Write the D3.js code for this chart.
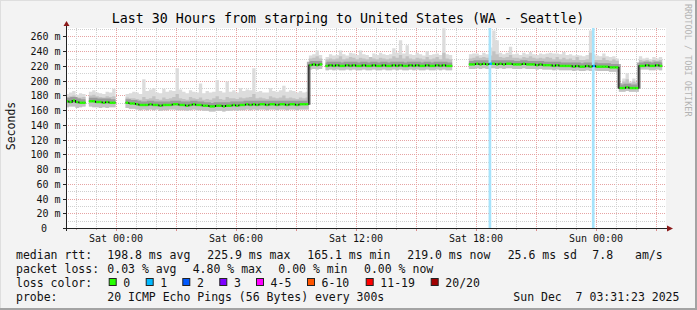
<!DOCTYPE html>
<html><head><meta charset="utf-8">
<script src="https://cdn.jsdelivr.net/npm/d3@7"></script>
<style>
html,body{margin:0;padding:0;background:#f3f3f3;}
svg{display:block;}
text{font-family:"DejaVu Sans Mono",monospace;white-space:pre;}
</style></head><body>
<svg id="c" width="697" height="310"></svg>
<script>
// ---------- data (10-minute steps starting Fri 2025-12-05 21:30 UTC) ----------
const dataStart = "2025-12-05T21:30:00Z";
const stepMinutes = 10;
const graphStart = "2025-12-05T21:31:23Z";
const graphEnd = "2025-12-07T03:31:23Z";
const N = null;
const median = [
172,171,173,171,170,170,N,172,172,171,
171,170,171,170,170,N,N,N,170,169,
169,168,167,167,167,168,167,167,166,167,
167,167,168,168,167,167,166,167,168,167,
167,166,166,165,165,166,166,165,166,166,
167,166,167,167,168,167,168,167,168,168,
167,168,168,167,168,168,167,168,168,167,
168,168,168,221,222,221,222,N,220,221,
220,221,220,220,221,220,221,220,220,221,
220,220,221,220,220,221,220,220,221,220,
221,220,220,221,220,221,220,220,221,220,
220,221,220,221,220,220,N,N,N,N,
N,222,222,223,222,223,222,223,223,222,
223,222,223,223,222,222,222,223,222,222,
222,221,222,221,221,221,220,221,220,220,
220,220,219,220,219,219,220,219,220,219,
219,219,219,218,218,218,190,190,191,190,
190,190,220,220,221,220,220,221,220,N];
const smokeMin = [
164,165,165,163,164,165,N,165,164,164,
163,164,163,164,164,N,N,N,163,162,
162,161,160,161,160,161,160,161,159,160,
160,161,161,160,160,160,159,160,161,160,
160,159,159,158,158,159,159,158,159,159,
160,159,160,160,161,160,161,160,161,161,
160,161,161,160,161,161,160,161,161,160,
161,161,161,215,216,215,216,N,214,215,
214,215,214,214,215,214,215,214,214,215,
214,214,215,214,214,215,214,214,215,214,
215,214,214,215,214,215,214,214,215,214,
214,215,214,215,214,214,N,N,N,N,
N,216,216,217,216,217,216,217,217,216,
217,216,217,217,216,216,216,217,216,216,
216,215,216,215,215,215,214,215,214,214,
214,214,213,214,213,213,214,213,214,213,
213,213,213,212,212,212,185,185,186,185,
185,185,215,215,215,214,214,215,214,N];
const smokeHigh = [
178,179,180,177,177,178,N,180,181,179,
178,177,179,178,179,N,N,N,177,176,
176,175,174,178,175,176,179,175,174,177,
175,176,178,182,176,175,174,178,176,175,
177,174,175,174,176,179,175,174,178,176,
176,175,177,176,177,178,182,176,177,176,
175,179,177,176,177,180,176,177,176,175,
177,176,177,230,231,233,230,N,229,230,
229,230,233,229,230,232,231,229,231,230,
229,232,230,229,231,230,229,230,233,231,
235,230,233,230,229,231,230,229,232,229,
230,232,229,238,230,229,N,N,N,N,
N,230,231,233,231,232,231,234,240,236,
232,231,232,235,231,231,230,232,231,233,
231,230,231,230,232,231,229,232,229,231,
229,230,228,232,228,228,229,238,228,228,
228,231,228,227,229,227,197,199,202,197,
199,197,228,227,228,226,228,227,228,N];
const smokeMax = [
182,184,186,181,183,182,N,185,187,184,
183,182,185,184,189,N,N,N,182,183,
185,184,182,202,186,188,190,184,183,189,
185,187,186,217,188,185,183,187,185,184,
196,183,186,184,185,201,186,184,199,185,
187,184,190,186,188,187,217,185,186,184,
184,190,186,185,187,193,185,187,186,184,
186,184,185,234,236,241,235,N,232,236,
234,235,241,236,234,238,237,235,241,236,
235,232,237,235,238,236,235,236,244,238,
255,237,248,236,235,238,236,234,240,235,
236,237,235,271,236,235,N,N,N,N,
N,236,237,237,235,238,236,245,268,255,
238,236,238,246,236,237,235,238,236,239,
236,235,237,236,237,238,237,237,236,239,
235,236,234,235,234,233,235,268,236,234,
233,237,233,232,233,230,196,203,210,199,
203,198,233,230,231,229,232,230,232,N];
const lossIndex = [127, 158];
const lossCount = [1, 1];

const yTicks = [0,20,40,60,80,100,120,140,160,180,200,220,240,260];
const lossLabels = ["0","1","2","3","4-5","6-10","11-19","20/20"];
const lossColors = ["#26ff00","#00b8ff","#0059ff","#7e00ff","#ff00ff","#ff5500","#ff0000","#a10000"];
const statsRtt = ["198.8 ms avg","225.9 ms max","165.1 ms min","219.0 ms now","25.6 ms sd","7.8","am/s"];
const statsLoss = ["0.03 % avg","4.80 % max","0.00 % min","0.00 % now"];
const title = "Last 30 Hours from starping to United States (WA - Seattle)";
const probeText = "20 ICMP Echo Pings (56 Bytes) every 300s";
const stampText = "Sun Dec  7 03:31:23 2025";

// ---------- drawing ----------
const svg = d3.select("#c");
const W = 697, H = 310;
const X0 = 66, X1 = 666, Y0 = 228, Y1 = 28;
const x = d3.scaleUtc().domain([new Date(graphStart), new Date(graphEnd)]).range([X0, X1]);
const y = d3.scaleLinear().domain([0, 271.5]).range([Y0, Y1]);
const t0 = new Date(dataStart).getTime();
const tAt = i => new Date(t0 + i * stepMinutes * 60000);

svg.append("rect").attr("width", W).attr("height", H).attr("fill", "#f3f3f3");
svg.append("rect").attr("x", W-2).attr("y", 0).attr("width", 2).attr("height", H).attr("fill", "#a3a3a3");
svg.append("rect").attr("x", 0).attr("y", H-2).attr("width", W).attr("height", 2).attr("fill", "#a3a3a3");
svg.append("rect").attr("x", 0).attr("y", 0).attr("width", 1).attr("height", H-2).attr("fill", "#dedede");
svg.append("rect").attr("x", 0).attr("y", 0).attr("width", W-2).attr("height", 1).attr("fill", "#dedede");

svg.append("rect").attr("x", X0).attr("y", Y1).attr("width", X1 - X0).attr("height", Y0 - Y1).attr("fill", "#ffffff");

svg.append("defs").append("clipPath").attr("id", "clip")
  .append("rect").attr("x", X0).attr("y", Y1).attr("width", X1 - X0).attr("height", Y0 - Y1);

// grid
const grid = svg.append("g").attr("shape-rendering", "crispEdges");
d3.range(10, 271, 10).forEach(v => {
  const maj = v % 20 === 0;
  grid.append("line").attr("x1", X0).attr("x2", X1).attr("y1", Math.round(y(v)) + 0.5).attr("y2", Math.round(y(v)) + 0.5)
    .attr("stroke", maj ? "#e6a3a3" : "#cfcfcf").attr("stroke-dasharray", "1,1");
});
const hours = d3.utcHour.range(new Date(graphStart), new Date(graphEnd));
hours.forEach(h => {
  const maj = h.getUTCHours() % 3 === 0;
  const px = Math.round(x(h)) + 0.5;
  grid.append("line").attr("x1", px).attr("x2", px).attr("y1", Y1).attr("y2", Y0)
    .attr("stroke", maj ? "#e6a3a3" : "#cfcfcf").attr("stroke-dasharray", "1,1");
  grid.append("line").attr("x1", px).attr("x2", px).attr("y1", Y0).attr("y2", Y0 + (maj ? 3 : 2))
    .attr("stroke", maj ? "#d98a8a" : "#c4a8a8");
});

// build stepped points with sentinel after each block
function stepPoints(arrA, arrB) {
  const pts = [];
  for (let i = 0; i < arrA.length; i++) {
    const a = arrA[i];
    pts.push({t: tAt(i), a: a, b: arrB ? arrB[i] : null});
    const next = i + 1 < arrA.length ? arrA[i + 1] : null;
    if (a != null && next == null) {
      pts.push({t: tAt(i + 1), a: a, b: arrB ? arrB[i] : null});
      pts.push({t: tAt(i + 1), a: null, b: null});
    }
  }
  return pts;
}
const plot = svg.append("g").attr("clip-path", "url(#clip)");

const area = d3.area().curve(d3.curveStepAfter)
  .defined(d => d.a != null).x(d => x(d.t)).y0(d => y(d.a)).y1(d => y(d.b));
plot.append("path").datum(stepPoints(smokeMin, smokeMax)).attr("d", area).attr("fill", "#dcdcdc");
plot.append("path").datum(stepPoints(smokeMin, smokeHigh)).attr("d", area).attr("fill", "#c2c2c2");

const line = d3.line().curve(d3.curveStepAfter).defined(d => d.a != null).x(d => x(d.t)).y(d => y(d.a));
// dense core of the smoke around the median
plot.append("path").datum(stepPoints(median)).attr("d", line).attr("fill", "none")
  .attr("stroke", "#8a8a8a").attr("stroke-width", 4).attr("opacity", 0.7).attr("transform", "translate(0,-1.5)");

// loss bars
lossIndex.forEach((li, k) => {
  const xa = x(tAt(li)), xb = x(tAt(li + 1));
  plot.append("rect").attr("x", xa - 0.3).attr("width", (xb - xa) * 0.8).attr("y", Y1).attr("height", Y0 - Y1)
    .attr("fill", "#a6e3fb");
});

// median line (black) then loss-colored segments
plot.append("path").datum(stepPoints(median)).attr("d", line).attr("fill", "none")
  .attr("stroke", "#111").attr("stroke-width", 1.2);
median.forEach((v, i) => {
  if (v == null) return;
  const li = lossIndex.indexOf(i);
  const col = li >= 0 ? lossColors[lossCount[li]] : lossColors[0];
  const xa = x(tAt(i)), xb = x(tAt(i + 1));
  const prev = median[i - 1], next = median[i + 1];
  const a = (prev != null && prev !== v) ? 0.6 : 0;
  const b = (next != null && next !== v) ? 0.6 : 0;
  plot.append("line").attr("x1", xa + a).attr("x2", xb - b).attr("y1", y(v)).attr("y2", y(v))
    .attr("stroke", col).attr("stroke-width", 2.4);
});

// axes
const ax = svg.append("g");
ax.append("line").attr("x1", X0 - 0.5).attr("x2", X1 + 2).attr("y1", Y0 + 0.5).attr("y2", Y0 + 0.5).attr("stroke", "#222");
ax.append("line").attr("x1", X0 + 0.5).attr("x2", X0 + 0.5).attr("y1", Y0 + 3).attr("y2", Y1 - 3).attr("stroke", "#222");
ax.append("path").attr("d", `M${X0 - 2.5},${Y1 - 2} L${X0 + 3.5},${Y1 - 2} L${X0 + 0.5},${Y1 - 7} Z`).attr("fill", "#8b1a1a");
ax.append("path").attr("d", `M${X1 + 1},${Y0 - 2.5} L${X1 + 1},${Y0 + 3.5} L${X1 + 7},${Y0 + 0.5} Z`).attr("fill", "#8b1a1a");

// y ticks & labels
yTicks.forEach(v => {
  const py = Math.round(y(v)) + 0.5;
  ax.append("line").attr("x1", X0 - 3).attr("x2", X0).attr("y1", py).attr("y2", py).attr("stroke", "#222");
  ax.append("text").attr("x", v === 0 ? 47 : 60.5).attr("y", py + 3.6).attr("text-anchor", "end")
    .attr("font-size", "10px").attr("fill", "#111").text(v === 0 ? "0" : v + " m");
});
// x labels
const fmt = d3.utcFormat("%a %H:%M");
d3.utcHour.every(6).range(new Date(graphStart), new Date(graphEnd)).forEach(h => {
  ax.append("text").attr("x", x(h) + 0.5).attr("y", 242).attr("text-anchor", "middle")
    .attr("font-size", "10px").attr("fill", "#111").text(fmt(h));
});

// titles
svg.append("text").attr("x", 348).attr("y", 23).attr("text-anchor", "middle").attr("font-size", "13.3px").attr("fill", "#000").text(title);
svg.append("text").attr("transform", "translate(15,126) rotate(-90)").attr("text-anchor", "middle")
  .attr("font-size", "11.5px").attr("fill", "#111").text("Seconds");
svg.append("text").attr("transform", "translate(685,4) rotate(90)").attr("text-anchor", "start")
  .attr("font-size", "8.5px").attr("fill", "#b3b3b3").text("RRDTOOL / TOBI OETIKER");

// legend
const lg = svg.append("g").attr("font-size", "11.5px").attr("fill", "#111");
const rows = [258.5, 272.5, 286.5, 300.5];
lg.append("text").attr("x", 16).attr("y", rows[0]).text("median rtt:");
const rttX = [107.3, 207.3, 307.3, 407.3, 507.7, 592.3, 635];
statsRtt.forEach((s, k) => lg.append("text").attr("x", rttX[k]).attr("y", rows[0]).text(s));
lg.append("text").attr("x", 16).attr("y", rows[1]).text("packet loss:");
const lossX = [107.3, 192.7, 278.3, 364];
statsLoss.forEach((s, k) => lg.append("text").attr("x", lossX[k]).attr("y", rows[1]).text(s));
lg.append("text").attr("x", 16).attr("y", rows[2]).text("loss color:");
const boxX = [108.7, 145.7, 182.3, 219.3, 256, 307, 365.7, 430.7];
lossLabels.forEach((s, k) => {
  lg.append("rect").attr("x", boxX[k] + 0.5).attr("y", 278.5).attr("width", 7).attr("height", 7)
    .attr("fill", lossColors[k]).attr("stroke", "#222").attr("stroke-width", 1);
  lg.append("text").attr("x", boxX[k] + 14.6).attr("y", rows[2]).text(s);
});
lg.append("text").attr("x", 16).attr("y", rows[3]).text("probe:");
lg.append("text").attr("x", 107.3).attr("y", rows[3]).text(probeText);
lg.append("text").attr("x", 513.3).attr("y", rows[3]).text(stampText);
</script>
</body></html>
